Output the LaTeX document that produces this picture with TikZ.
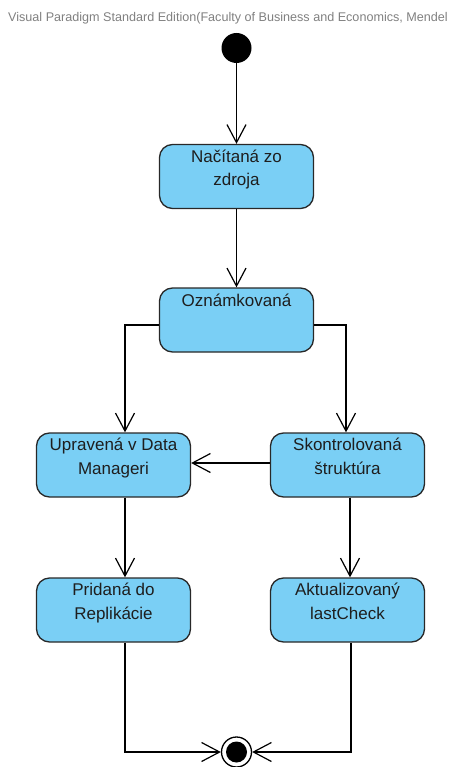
\documentclass[tikz,border=0pt]{standalone}
\usepackage{fontspec}
\setmainfont{Liberation Sans}
\usetikzlibrary{arrows.meta}
\definecolor{statefill}{RGB}{122,207,245}
\definecolor{stateline}{RGB}{40,40,40}
\definecolor{textdark}{RGB}{30,30,30}
\definecolor{headgray}{RGB}{128,128,128}
\begin{document}
\begin{tikzpicture}[x=1pt,y=-1pt,
  statebox/.style={draw=stateline, line width=1.3pt, fill=statefill,
    rounded corners=13pt, minimum width=154pt, minimum height=64pt, inner sep=0pt},
  statetext/.style={font=\fontsize{17pt}{23.5pt}\selectfont, text=textdark,
    align=center, inner sep=0pt, anchor=base},
  flow/.style={draw=black, line width=1.2pt,
    -{Straight Barb[length=18pt,width=19pt,line width=1.2pt]}},
  ]
\useasboundingbox (0,0) rectangle (451,767);

% tool banner
\node[anchor=base west, inner sep=0pt, text=headgray,
  font=\fontsize{12.6pt}{14pt}\selectfont] (banner) at (8,22)
  {Visual Paradigm Standard Edition(Faculty of Business and Economics, Mendel};

% initial and final pseudo-states
\node[circle, fill=black, minimum size=30pt, inner sep=0pt] (init) at (236.5,48) {};
\node[circle, draw=black, line width=1.3pt, fill=white, minimum size=30pt, inner sep=0pt,
  path picture={\fill[black] (path picture bounding box.center) circle (10.5pt);}]
  (final) at (236.5,752) {};

% states
\node[statebox] (s1) at (236.5,176.5) {};
\node[statebox] (s2) at (236.5,320) {};
\node[statebox] (s3) at (113.5,465) {};
\node[statebox] (s4) at (347.5,465) {};
\node[statebox] (s5) at (113.5,610) {};
\node[statebox] (s6) at (347.5,610) {};

% names; the base anchor sits on the last line, 23.5pt below the first one
\node[statetext] (t1) at ([yshift=-42pt]s1.north) {Načítaná zo\\zdroja};
\node[statetext] (t2) at ([yshift=-19.5pt]s2.north) {Oznámkovaná};
\node[statetext] (t3) at ([yshift=-42pt]s3.north) {Upravená v Data\\Manageri};
\node[statetext] (t4) at ([yshift=-42pt]s4.north) {Skontrolovaná\\štruktúra};
\node[statetext] (t5) at ([yshift=-42pt]s5.north) {Pridaná do\\Replikácie};
\node[statetext] (t6) at ([yshift=-42pt]s6.north) {Aktualizovaný\\lastCheck};

% transitions
\draw[flow] (init) -- (s1);
\draw[flow] (s1) -- (s2);
\draw[flow] ([yshift=-5pt]s2.west) -| ([xshift=11.5pt]s3.north);
\draw[flow] ([yshift=-5pt]s2.east) -| ([xshift=-1.5pt]s4.north);
\draw[flow] ([yshift=2pt]s4.west) -- ([yshift=2pt]s3.east);
\draw[flow] ([xshift=11.5pt]s3.south) -- ([xshift=11.5pt]s5.north);
\draw[flow] ([xshift=2.5pt]s4.south) -- ([xshift=2.5pt]s6.north);
\draw[flow] ([xshift=11.5pt]s5.south) |- (final.west);
\draw[flow] ([xshift=3.5pt]s6.south) |- (final.east);
\end{tikzpicture}
\end{document}
